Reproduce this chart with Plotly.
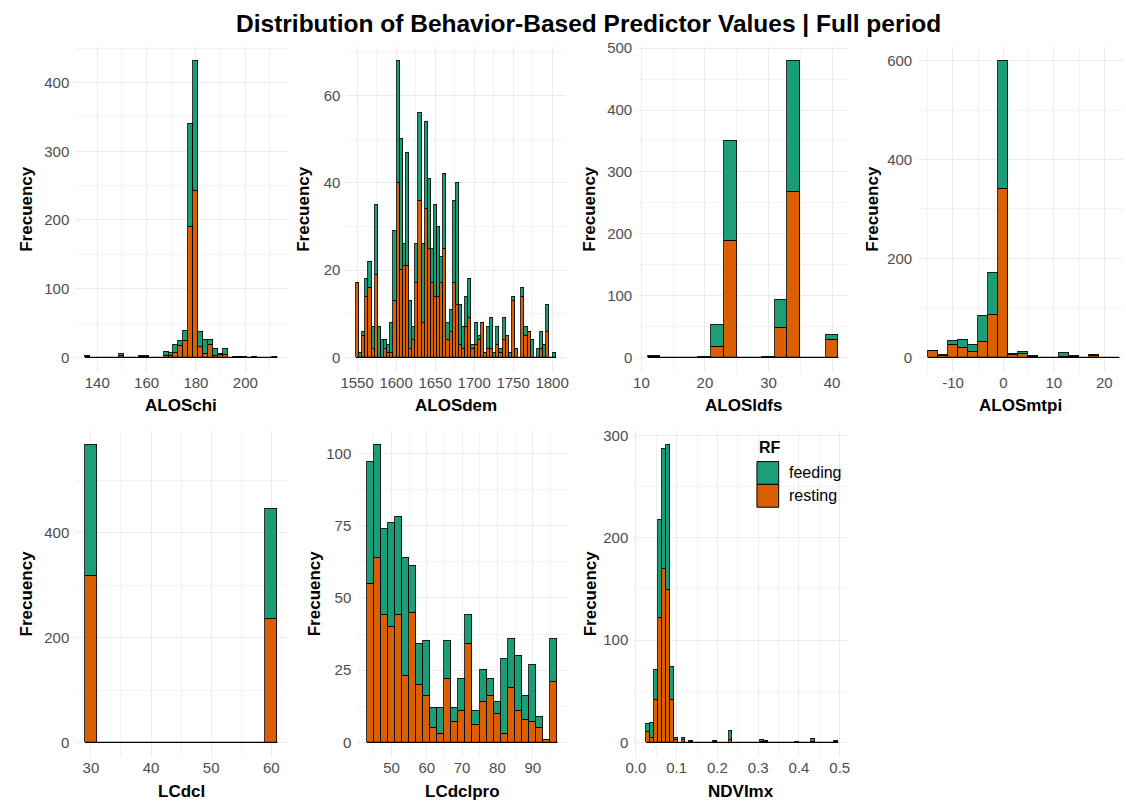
import plotly.graph_objects as go

W, H = 1126, 802
GREEN = "#1B9E77"
ORANGE = "#D95F02"
GRID = "#EBEBEB"
GRID_MINOR = "#F3F3F3"
TICK_COLOR = "#4D4D4D"
FONT = "Liberation Sans, Arial, sans-serif"

# ---------------- data (bin centres and stacked counts) ----------------
chi_bins = [136, 138, 140, 142, 144, 146, 148, 150, 152, 154, 156, 158, 160, 162, 164, 166, 168, 170, 172, 174,
            176, 178, 180, 182, 184, 186, 188, 190, 192, 194, 196, 198, 200, 202, 204, 206, 208, 210, 212]
chi_rest = [1, 0, 0, 0, 0, 0, 0, 3, 0, 0, 0, 1, 1, 0, 0, 0, 3, 2, 7, 17,
            25, 190, 242, 15, 5, 19, 2, 4, 4, 0, 0, 1, 0, 0, 1, 0, 0, 0, 0]
chi_feed = [1, 0, 0, 0, 0, 0, 0, 2, 0, 0, 0, 1, 1, 0, 0, 0, 5, 5, 11, 7,
            14, 150, 190, 22, 21, 7, 10, 1, 8, 0, 1, 0, 1, 0, 0, 0, 0, 0, 1]

dem_bins = [1551, 1555, 1559, 1563, 1567, 1571, 1575, 1579, 1583, 1587, 1591, 1595, 1599, 1603, 1607, 1611,
            1615, 1619, 1623, 1627, 1631, 1635, 1639, 1643, 1647, 1651, 1655, 1659, 1663, 1667, 1671, 1675,
            1679, 1683, 1687, 1691, 1695, 1699, 1703, 1707, 1711, 1715, 1719, 1723, 1727, 1731, 1735, 1739,
            1743, 1747, 1751, 1755, 1759, 1763, 1767, 1771, 1775, 1779, 1783, 1787, 1791, 1795, 1799, 1803]
dem_rest = [17, 0, 5, 14, 16, 2, 19, 0, 0, 2, 1, 1, 13, 40, 20, 21, 21, 2, 4, 17,
            36, 8, 34, 25, 17, 14, 14, 17, 25, 4, 6, 17, 12, 3, 2, 7, 9, 2, 3, 4,
            8, 1, 2, 2, 0, 3, 1, 4, 5, 0, 13, 2, 0, 14, 5, 6, 0, 0, 0, 2, 0, 6, 0, 0]
dem_feed = [0, 1, 1, 4, 6, 5, 16, 7, 4, 2, 2, 7, 16, 28, 30, 5, 26, 11, 3, 9,
            20, 18, 20, 16, 8, 21, 16, 6, 17, 4, 5, 19, 28, 9, 5, 7, 9, 1, 5, 1,
            0, 0, 5, 7, 1, 4, 1, 5, 0, 1, 1, 0, 0, 2, 2, 0, 4, 0, 2, 4, 3, 6, 0, 1]

ldfs_bins = [12, 14, 16, 18, 20, 22, 24, 26, 28, 30, 32, 34, 36, 38, 40]
ldfs_rest = [1, 0, 0, 0, 0, 18, 188, 0, 0, 0, 48, 268, 0, 0, 29]
ldfs_feed = [1, 0, 0, 0, 1, 35, 162, 0, 0, 1, 45, 212, 0, 0, 7]

mtpi_bins = [-14, -12, -10, -8, -6, -4, -2, 0, 2, 4, 6, 8, 10, 12, 14, 16, 18, 20, 22]
mtpi_rest = [13, 3, 25, 19, 11, 31, 87, 340, 6, 8, 1, 0, 0, 1, 1, 0, 3, 0, 0]
mtpi_feed = [0, 2, 8, 17, 14, 54, 85, 260, 2, 3, 2, 0, 0, 8, 2, 0, 2, 0, 0]
mtpi_ticks = [-10, 0, 10, 20]
mtpi_ticklabels = ["-10", "0", "10", "20"]

dcl_bins = [30, 32, 34, 36, 38, 40, 42, 44, 46, 48, 50, 52, 54, 56, 58, 60]
dcl_rest = [318, 0, 0, 0, 0, 0, 0, 0, 0, 0, 0, 0, 0, 0, 0, 235]
dcl_feed = [250, 0, 0, 0, 0, 0, 0, 0, 0, 0, 0, 0, 0, 0, 0, 210]

pro_bins = [44, 46, 48, 50, 52, 54, 56, 58, 60, 62, 64, 66, 68, 70, 72, 74, 76, 78, 80, 82,
            84, 86, 88, 90, 92, 94, 96]
pro_rest = [55, 64, 44, 40, 44, 23, 45, 20, 16, 5, 3, 22, 7, 11, 34, 6, 14, 16, 10, 3,
            19, 11, 8, 7, 5, 1, 21]
pro_feed = [42, 39, 30, 36, 34, 41, 16, 14, 19, 7, 9, 13, 5, 11, 10, 5, 11, 6, 4, 26,
            17, 19, 8, 20, 4, 0, 15]

ndvi_bins = [0.031, 0.0406, 0.0502, 0.0598, 0.0694, 0.079, 0.0886, 0.0982, 0.1078, 0.1174,
             0.127, 0.1366, 0.1462, 0.1558, 0.1654, 0.175, 0.1846, 0.1942, 0.2038, 0.2134,
             0.223, 0.2326, 0.2422, 0.2518, 0.2614, 0.271, 0.2806, 0.2902, 0.2998, 0.3094,
             0.319, 0.3286, 0.3382, 0.3478, 0.3574, 0.367, 0.3766, 0.3862, 0.3958, 0.4054,
             0.415, 0.4246, 0.4342, 0.4438, 0.4534, 0.463, 0.4726, 0.4822, 0.4918]
ndvi_rest = [10, 5, 42, 122, 170, 149, 42, 3, 0, 3, 0, 1, 0, 0, 0, 0, 0, 1, 0, 0,
             0, 3, 0, 0, 0, 0, 0, 0, 0, 1, 1, 0, 0, 0, 0, 0, 0, 0, 0, 0,
             0, 0, 1, 0, 0, 0, 0, 0, 1]
ndvi_feed = [8, 14, 29, 96, 117, 142, 32, 2, 0, 2, 0, 1, 0, 0, 0, 0, 0, 1, 0, 0,
             0, 8, 0, 0, 0, 0, 0, 0, 0, 2, 1, 0, 0, 0, 0, 0, 0, 0, 1, 0,
             0, 0, 3, 0, 0, 0, 0, 0, 1]

series_names = ["feeding", "resting"]
title_text = "Distribution of Behavior-Based Predictor Values | Full period"
y_title = "Frecuency"

# ---------------- panel layout (pixel boxes) ----------------
TOP_ROW = (40, 369)
BOT_ROW = (427, 757)
panels = [
    dict(name="ALOSchi", bins=chi_bins, rest=chi_rest, feed=chi_feed, px=(67, 281), row=TOP_ROW,
         xd=20, xt0=140, yd=100, ytx=18),
    dict(name="ALOSdem", bins=dem_bins, rest=dem_rest, feed=dem_feed, px=(341, 563), row=TOP_ROW,
         xd=50, xt0=1550, yd=20, ytx=298),
    dict(name="ALOSldfs", bins=ldfs_bins, rest=ldfs_rest, feed=ldfs_feed, px=(636, 848), row=TOP_ROW,
         xd=10, xt0=10, yd=100, ytx=587),
    dict(name="ALOSmtpi", bins=mtpi_bins, rest=mtpi_rest, feed=mtpi_feed, px=(919, 1126), row=TOP_ROW,
         xd=10, xt0=-10, yd=200, ytx=873, clip_right=1132,
         tickvals=mtpi_ticks, ticktext=mtpi_ticklabels),
    dict(name="LCdcl", bins=dcl_bins, rest=dcl_rest, feed=dcl_feed, px=(67, 281), row=BOT_ROW,
         xd=10, xt0=30, yd=200, ytx=18),
    dict(name="LCdclpro", bins=pro_bins, rest=pro_rest, feed=pro_feed, px=(352, 564), row=BOT_ROW,
         xd=10, xt0=50, yd=25, ytx=309),
    dict(name="NDVImx", bins=ndvi_bins, rest=ndvi_rest, feed=ndvi_feed, px=(632, 848), row=BOT_ROW,
         xd=0.1, xt0=0, yd=100, ytx=588, fmt=".1f", xlo=-0.004),
]

fig = go.Figure()
layout = dict(
    width=W, height=H,
    margin=dict(l=0, r=0, t=0, b=0),
    paper_bgcolor="white", plot_bgcolor="white",
    barmode="stack", bargap=0,
    showlegend=False,
    font=dict(family=FONT, color="black"),
)
annotations = []
shapes = []

for i, p in enumerate(panels):
    n = i + 1
    xs = "x" if n == 1 else f"x{n}"
    ys = "y" if n == 1 else f"y{n}"
    bins = p["bins"]
    bw = bins[1] - bins[0]
    lo_edge = bins[0] - bw / 2
    hi_edge = bins[-1] + bw / 2
    span = hi_edge - lo_edge
    xr = [lo_edge - 0.05 * span, hi_edge + 0.05 * span]
    if "xlo" in p:
        xr[0] = p["xlo"]
    x0px, x1px = p["px"]
    if "clip_right" in p:
        frac = (x1px - x0px) / (p["clip_right"] - x0px)
        xr = [xr[0], xr[0] + frac * (xr[1] - xr[0])]
    totals = [r + f for r, f in zip(p["rest"], p["feed"])]
    m = max(totals)
    yr = [-0.05 * m, 1.05 * m]

    # baseline spanning the histogram bins (zero-count bins)
    fig.add_trace(go.Scatter(x=[lo_edge, hi_edge], y=[0, 0], mode="lines",
                             line=dict(color="black", width=1.2), xaxis=xs, yaxis=ys,
                             hoverinfo="skip", showlegend=False))
    fig.add_trace(go.Bar(x=bins, y=p["rest"], width=bw, name=series_names[1],
                         marker=dict(color=ORANGE, line=dict(color="black", width=0.8)),
                         xaxis=xs, yaxis=ys, showlegend=False))
    fig.add_trace(go.Bar(x=bins, y=p["feed"], width=bw, name=series_names[0],
                         marker=dict(color=GREEN, line=dict(color="black", width=0.8)),
                         xaxis=xs, yaxis=ys, showlegend=False))

    y0px, y1px = p["row"]
    xkey = "xaxis" if n == 1 else f"xaxis{n}"
    ykey = "yaxis" if n == 1 else f"yaxis{n}"
    xa = dict(
        domain=[x0px / W, x1px / W], range=xr, anchor=ys,
        showgrid=True, gridcolor=GRID, gridwidth=1, zeroline=False, showline=False,
        ticks="", tick0=p["xt0"], dtick=p["xd"], tickformat=p.get("fmt", ""),
        tickfont=dict(size=15, color=TICK_COLOR, family=FONT),
        minor=dict(showgrid=True, gridcolor=GRID_MINOR, gridwidth=0.6,
                   tick0=p["xt0"] + p["xd"] / 2, dtick=p["xd"]),
        fixedrange=True,
    )
    if "tickvals" in p:
        xa.update(tickmode="array", tickvals=p["tickvals"], ticktext=p["ticktext"])
    layout[xkey] = xa
    layout[ykey] = dict(
        domain=[1 - y1px / H, 1 - y0px / H], range=yr, anchor=xs,
        showgrid=True, gridcolor=GRID, gridwidth=1, zeroline=False, showline=False,
        ticks="", tick0=0, dtick=p["yd"], ticklabelstandoff=5,
        tickfont=dict(size=15, color=TICK_COLOR, family=FONT),
        minor=dict(showgrid=True, gridcolor=GRID_MINOR, gridwidth=0.6,
                   tick0=p["yd"] / 2, dtick=p["yd"]),
        fixedrange=True,
    )
    # axis titles
    annotations.append(dict(text=f"<b>{p['name']}</b>", xref="paper", yref="paper",
                            x=(x0px + x1px) / 2 / W, y=1 - (y1px + 34) / H,
                            showarrow=False, font=dict(size=17, color="black", family=FONT),
                            xanchor="center", yanchor="middle"))
    annotations.append(dict(text=f"<b>{y_title}</b>", xref="paper", yref="paper",
                            x=p["ytx"] / W, y=1 - (y0px + y1px) / 2 / H, textangle=-90,
                            showarrow=False, font=dict(size=17, color="black", family=FONT),
                            xanchor="center", yanchor="middle"))

# title
annotations.append(dict(text=f"<b>{title_text}</b>", xref="paper", yref="paper",
                        x=586 / W, y=1 - 18 / H, showarrow=False,
                        font=dict(size=24.5, color="black", family=FONT),
                        xanchor="center", yanchor="middle"))

# legend (RF)
LEG_X, LEG_Y = 756, 459
KEY_W, KEY_H = 22, 23
annotations.append(dict(text="<b>RF</b>", xref="paper", yref="paper",
                        x=LEG_X / W, y=1 - 445 / H, showarrow=False,
                        font=dict(size=16, color="black", family=FONT),
                        xanchor="left", yanchor="middle"))
for j, (lab, col) in enumerate(zip(series_names, [GREEN, ORANGE])):
    top = LEG_Y + j * KEY_H
    shapes.append(dict(type="rect", xref="paper", yref="paper",
                       x0=LEG_X / W, x1=(LEG_X + KEY_W) / W,
                       y0=1 - (top + KEY_H) / H, y1=1 - top / H,
                       fillcolor=col, line=dict(color="black", width=1)))
    annotations.append(dict(text=lab, xref="paper", yref="paper",
                            x=(LEG_X + KEY_W + 8) / W, y=1 - (top + KEY_H / 2) / H,
                            showarrow=False, font=dict(size=16, color="black", family=FONT),
                            xanchor="left", yanchor="middle"))

layout["annotations"] = annotations
layout["shapes"] = shapes
fig.update_layout(**layout)
fig.write_html("out.html")
